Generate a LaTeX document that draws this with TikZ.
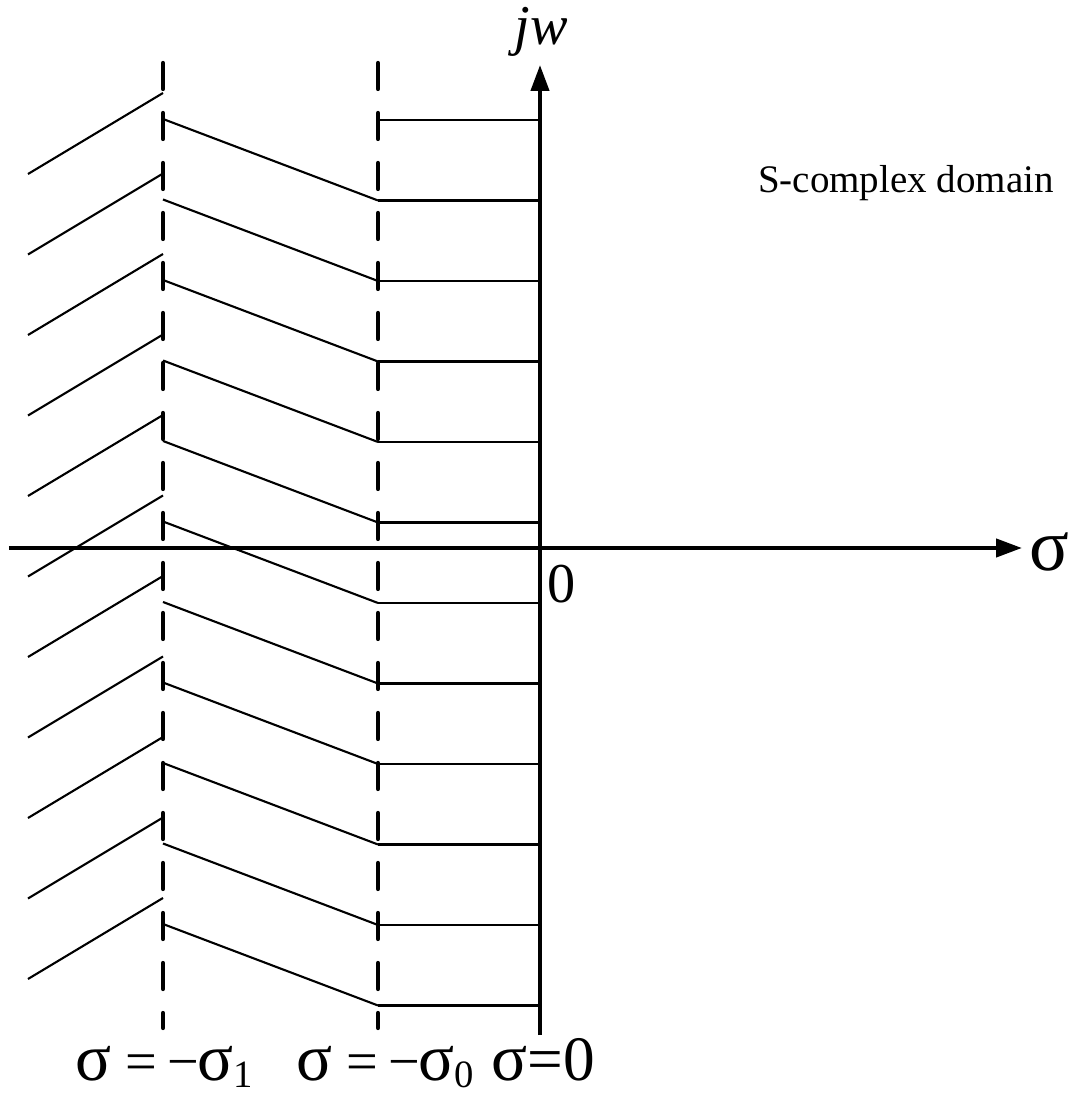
\documentclass[tikz,border=0pt]{standalone}
\usepackage{fontspec}
\setmainfont{Liberation Serif}
\usetikzlibrary{arrows.meta}
\newcommand{\sg}{{\fontsize{19}{19}\selectfont σ}}
\newcommand{\lowsub}[1]{\raisebox{-2pt}{\fontsize{11}{11}\selectfont #1}}
\tikzset{
  every picture/.style={line width=0.6pt},
  axis/.style={line width=1.2pt, -{Triangle[length=2.6mm, width=1.8mm]}},
  guide/.style={line width=1.2pt, dash pattern=on 2.6mm off 2.4mm, line cap=round},
  ray/.style={line width=0.6pt},
  big/.style={font=\fontsize{16}{18}\selectfont},
  note/.style={font=\fontsize{11.1}{13}\selectfont},
}

\begin{document}
\begin{tikzpicture}
  \useasboundingbox (-5.40,-5.47) rectangle (5.30,5.48);
  % axes
  \coordinate (xs) at (-5.31,0); \coordinate (xe) at (4.82,0);
  \coordinate (ys) at (0,-4.87); \coordinate (ye) at (0,4.83);
  \draw[axis] (xs) -- (xe);
  \draw[axis] (ys) -- (ye);
  \node[font=\fontsize{21}{21}\selectfont] (sig) at (5.09,-0.04) {σ};
  \node[font=\fontsize{16}{18}\selectfont] (jw) at (0.01,5.16) {\textit{jw}};
  \node[big] (zero) at (0.22,-0.36) {0};
  \node[note, anchor=base] (dom) at (3.66,3.55) {S-complex domain};
  % guide lines sigma = -sigma1, -sigma0
  \draw[guide] (-3.77,4.85) -- (-3.77,-4.80);
  \draw[guide] (-1.62,4.85) -- (-1.62,-4.80);
  % zigzag paths
  \foreach \j in {0,...,11}
    \draw[ray] (-1.62,{4.28-0.805*\j}) -- (0,{4.28-0.805*\j});
  \foreach \j in {0,...,10} {
    \draw[ray] (-3.77,{4.29-0.805*\j}) -- (-1.62,{4.28-0.805*(\j+1)});
    \draw[ray] (-5.12,{3.74-0.805*\j}) -- (-3.77,{4.55-0.805*\j});
  }
  % bottom labels
  \node[big, anchor=base] (s1) at (-3.76,-5.32) {\sg{} = \kern-1pt−\kern-0.5pt\sg\lowsub{1}};
  \node[big, anchor=base] (s0) at (-1.55,-5.32) {\sg{} = \kern-1pt−\kern-0.5pt\sg\lowsub{0}};
  \node[big, anchor=base, font=\fontsize{18}{20}\selectfont] (s00) at (0.03,-5.32) {\sg{}=0};
\end{tikzpicture}
\end{document}
